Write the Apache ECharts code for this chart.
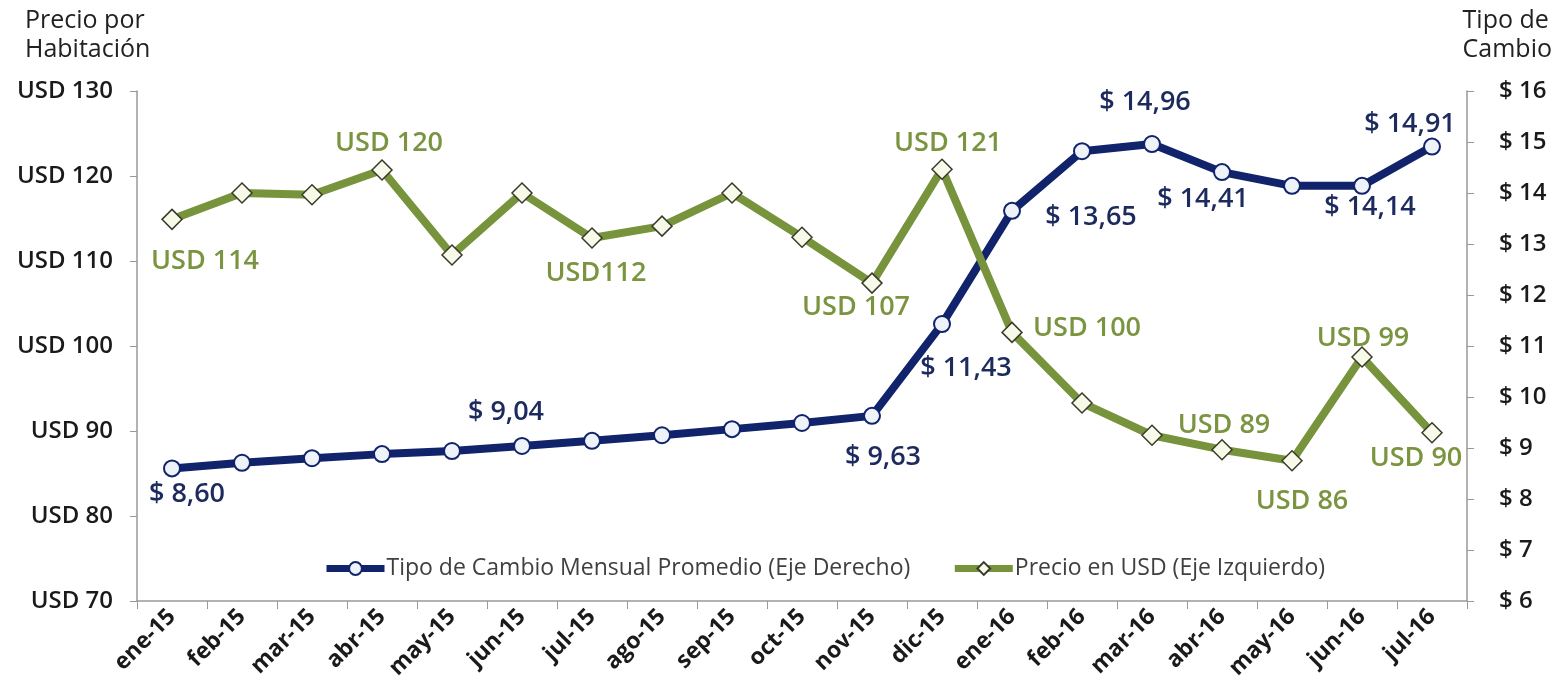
<!DOCTYPE html>
<html>
<head>
<meta charset="utf-8">
<script src="https://cdn.jsdelivr.net/npm/echarts@6/dist/echarts.min.js"></script>
<style>html,body{margin:0;padding:0;background:#fff}#c{width:1555px;height:696px}</style>
</head>
<body>
<div id="c"></div>
<script>
const categories = ['ene-15','feb-15','mar-15','abr-15','may-15','jun-15','jul-15','ago-15','sep-15','oct-15','nov-15','dic-15','ene-16','feb-16','mar-16','abr-16','may-16','jun-16','jul-16'];
const tipoCambio = [8.60, 8.71, 8.80, 8.88, 8.94, 9.04, 9.14, 9.25, 9.37, 9.49, 9.63, 11.43, 13.65, 14.82, 14.96, 14.41, 14.14, 14.14, 14.91];
const precioUSD = [114.9, 118.0, 117.8, 120.7, 110.7, 118.0, 112.7, 114.1, 118.0, 112.8, 107.4, 120.8, 101.6, 93.3, 89.5, 87.8, 86.5, 98.7, 89.8];
const tipoCambioLabels = ['$ 8,60', null, null, null, null, '$ 9,04', null, null, null, null, '$ 9,63', '$ 11,43', '$ 13,65', null, '$ 14,96', '$ 14,41', null, '$ 14,14', '$ 14,91'];
const precioLabels = ['USD 114', null, null, 'USD 120', null, null, 'USD112', null, null, null, 'USD 107', 'USD 121', 'USD 100', null, null, 'USD 89', 'USD 86', 'USD 99', 'USD 90'];
const leftTicks = {min: 70, max: 130, interval: 10};
const rightTicks = {min: 6, max: 16, interval: 1};

// label offsets (layout only)
const blueOffsets = {0:[15,26],5:[-16,-34],10:[11,41],11:[24,44],12:[79,6],14:[-7,-42],15:[-19,27],17:[8,21],18:[-22,-22]};
const greenOffsets = {0:[33,42],3:[7,-27],6:[4,35],10:[-16,24],11:[6,-26],12:[75,-4],15:[2,-24],16:[10,41],17:[1,-19],18:[-16,26]};

const BLUE = '#10236b', BLUE_TXT = '#1c2a5e', GREEN = '#77933c', GREEN_TXT = '#7a9440';
const FONT = 'Open Sans';

function buildData(values, labels, offsets, color) {
  return values.map((v, i) => {
    const item = {value: v};
    if (labels[i]) {
      item.label = {show: true, position: 'inside', offset: offsets[i] || [0, 0], formatter: labels[i],
        color: color, fontFamily: FONT, fontWeight: 600, fontSize: 27};
    }
    return item;
  });
}

const chart = echarts.init(document.getElementById('c'));
chart.setOption({
  animation: false,
  grid: {left: 137, right: 88, top: 91, bottom: 95, containLabel: false},
  graphic: [
    {type: 'text', left: 25, top: 6, style: {text: 'Precio por\nHabitación', font: '400 25px "Open Sans"', fill: '#222', lineHeight: 29}},
    {type: 'text', right: 3, top: 6, style: {text: 'Tipo de\nCambio', font: '400 25px "Open Sans"', fill: '#222', lineHeight: 29, align: 'right'}}
  ],
  legend: {
    left: 318, top: 552,
    itemWidth: 58, itemHeight: 16, itemGap: 41,
    data: ['Tipo de Cambio Mensual Promedio (Eje Derecho)', 'Precio en USD (Eje Izquierdo)'],
    lineStyle: {width: 7},
    textStyle: {fontFamily: FONT, fontSize: 23, color: '#404040', padding: [0, 0, 0, -3]}
  },
  xAxis: {
    type: 'category', data: categories, boundaryGap: true,
    axisLine: {lineStyle: {color: '#999', width: 1.5}},
    axisTick: {show: true, length: 8, lineStyle: {color: '#999'}},
    axisLabel: {rotate: 45, interval: 0, margin: 12, fontFamily: FONT, fontWeight: 700, fontSize: 23, color: '#1a1a1a'},
    splitLine: {show: false}
  },
  yAxis: [
    {type: 'value', min: leftTicks.min, max: leftTicks.max, interval: leftTicks.interval, position: 'left',
      axisLine: {show: true, lineStyle: {color: '#999', width: 1.5}},
      axisTick: {show: true, length: 7, lineStyle: {color: '#999'}},
      axisLabel: {formatter: 'USD {value}', margin: 24, fontFamily: FONT, fontWeight: 600, fontSize: 24, color: '#1a1a1a'},
      splitLine: {show: false}},
    {type: 'value', min: rightTicks.min, max: rightTicks.max, interval: rightTicks.interval, position: 'right',
      axisLine: {show: true, lineStyle: {color: '#999', width: 1.5}},
      axisTick: {show: true, length: 7, lineStyle: {color: '#999'}},
      axisLabel: {formatter: '$ {value}', margin: 32, fontFamily: FONT, fontWeight: 600, fontSize: 24, color: '#1a1a1a'},
      splitLine: {show: false}}
  ],
  series: [
    {name: 'Tipo de Cambio Mensual Promedio (Eje Derecho)', type: 'line', yAxisIndex: 1,
      data: buildData(tipoCambio, tipoCambioLabels, blueOffsets, BLUE_TXT),
      lineStyle: {color: BLUE, width: 8}, itemStyle: {color: '#eef3fa', borderColor: BLUE, borderWidth: 2},
      symbol: 'circle', symbolSize: 16, z: 2},
    {name: 'Precio en USD (Eje Izquierdo)', type: 'line', yAxisIndex: 0,
      data: buildData(precioUSD, precioLabels, greenOffsets, GREEN_TXT),
      lineStyle: {color: GREEN, width: 8}, itemStyle: {color: '#f7fae8', borderColor: '#3a3a2a', borderWidth: 1.5},
      symbol: 'diamond', symbolSize: 20, z: 3}
  ]
});
</script>
</body>
</html>
